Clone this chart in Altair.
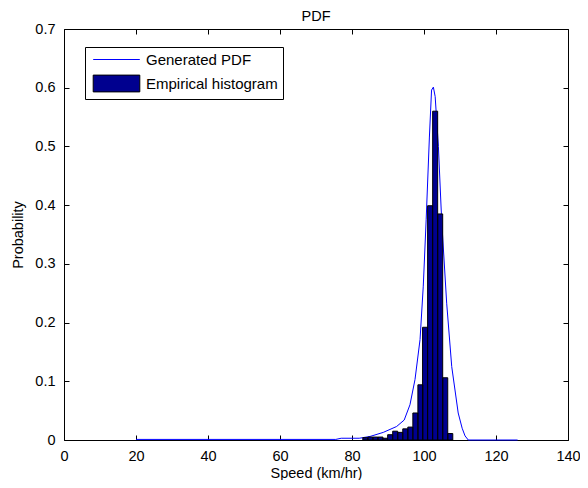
import altair as alt
import pandas as pd

# Empirical histogram (bin centres, probabilities)
bin_centers = [83.7, 85.1, 86.5, 87.9, 89.2, 90.6, 92.0, 93.4, 94.8, 96.2,
               97.6, 99.0, 100.3, 101.7, 103.1, 104.5, 105.9, 107.3]
bin_probs = [0.004, 0.005, 0.005, 0.005, 0.003, 0.009, 0.015, 0.013, 0.019, 0.022,
             0.046, 0.094, 0.192, 0.399, 0.560, 0.385, 0.106, 0.011]
bin_half = 0.695

# Generated PDF curve
pdf_speed = [20, 75.5, 77, 82, 85, 88.7, 92.4, 94.5, 96.1, 97.5, 98.9, 99.8, 100.6,
             101.5, 102.1, 102.6, 103.1, 104.0, 104.9, 106.3, 107.7, 109.5, 110.6,
             111.4, 112.3, 126]
pdf_prob = [0.001, 0.001, 0.003, 0.003, 0.006, 0.013, 0.023, 0.034, 0.060, 0.103,
            0.171, 0.262, 0.375, 0.516, 0.596, 0.601, 0.585, 0.500, 0.375, 0.233,
            0.125, 0.046, 0.020, 0.007, 0.000, 0.000]

x_ticks = [0, 20, 40, 60, 80, 100, 120, 140]
y_ticks = [0, 0.1, 0.2, 0.3, 0.4, 0.5, 0.6, 0.7]
series = ["Generated PDF", "Empirical histogram"]

FONT = "Liberation Sans"
FS = 14.5

hist_df = pd.DataFrame({"center": bin_centers, "prob": bin_probs,
                        "series": series[1]})
pdf_df = pd.DataFrame({"speed": pdf_speed, "prob": pdf_prob, "series": series[0]})

xscale = alt.Scale(domain=[0, 140], nice=False, zero=False)
yscale = alt.Scale(domain=[0, 0.7], nice=False, zero=False)
stroke_scale = alt.Scale(domain=series, range=["#0000FF", "#000000"])
fill_scale = alt.Scale(domain=series, range=["#0000FF", "#00008F"])

is_pdf = "datum.value === 'Generated PDF'"
legend = alt.Legend(
    title=None, orient="none", legendX=21, legendY=18,
    strokeColor="black", fillColor="white", padding=5,
    symbolSize=196, symbolOffset=19, labelOffset=22, rowPadding=5,
    labelFont=FONT, labelFontSize=15, labelColor="black",
    symbolType=alt.ExprRef(f"{is_pdf} ? 'M-3.33,0H3.33' : 'M-3.33,-1.2H3.33V1.2H-3.33Z'"),
    symbolStrokeWidth=1, symbolOpacity=1,
)

tick_common = dict(offset=-5, tickSize=5, domain=False, grid=False,
                   tickColor="black", tickWidth=1)

line = alt.Chart(pdf_df).mark_line(strokeWidth=1).encode(
    x=alt.X("speed:Q", scale=xscale,
            axis=alt.Axis(orient="bottom", values=x_ticks, labelPadding=9,
                          labelFont=FONT, labelFontSize=FS, labelColor="black",
                          labelFlush=False, title="Speed (km/hr)", titleFont=FONT,
                          titleFontSize=FS, titleFontWeight="normal",
                          titleColor="black", titlePadding=4, **tick_common)),
    y=alt.Y("prob:Q", scale=yscale,
            axis=alt.Axis(orient="left", values=y_ticks, format="~g",
                          labelPadding=9, labelFont=FONT, labelFontSize=FS,
                          labelColor="black", labelFlush=False,
                          title="Probability", titleFont=FONT, titleFontSize=FS,
                          titleFontWeight="normal", titleColor="black",
                          titlePadding=9, **tick_common)),
    stroke=alt.Stroke("series:N", scale=stroke_scale, legend=legend),
)

hist_base = alt.Chart(hist_df).transform_calculate(
    lo=f"datum.center - {bin_half}", hi=f"datum.center + {bin_half}"
)

bars = hist_base.mark_bar(strokeWidth=0, opacity=1).encode(
    x=alt.X("lo:Q", scale=xscale,
            axis=alt.Axis(orient="top", values=x_ticks, labels=False, title=None,
                          **tick_common)),
    x2="hi:Q",
    y=alt.Y("prob:Q", scale=yscale,
            axis=alt.Axis(orient="right", values=y_ticks, labels=False, title=None,
                          **tick_common)),
    y2=alt.datum(0),
    fill=alt.Fill("series:N", scale=fill_scale, legend=legend),
)

bar_edges = hist_base.mark_bar(filled=False, stroke="black", strokeWidth=1).encode(
    x=alt.X("lo:Q", scale=xscale, axis=None),
    x2="hi:Q",
    y=alt.Y("prob:Q", scale=yscale, axis=None),
    y2=alt.datum(0),
)

chart = alt.layer(line, bars, bar_edges).resolve_scale(
    x="independent", y="independent"
).properties(
    width=504, height=411,
    title=alt.TitleParams("PDF", font=FONT, fontSize=FS, fontWeight="normal",
                          color="black", offset=-3, anchor="middle"),
    autosize=alt.AutoSizeParams(type="none"),
    padding={"left": 56, "top": 21, "right": 12, "bottom": 40},
    background="white",
).configure_view(stroke="black", strokeWidth=1)

chart.save("out.html", embed_options={"renderer": "svg", "actions": False})
